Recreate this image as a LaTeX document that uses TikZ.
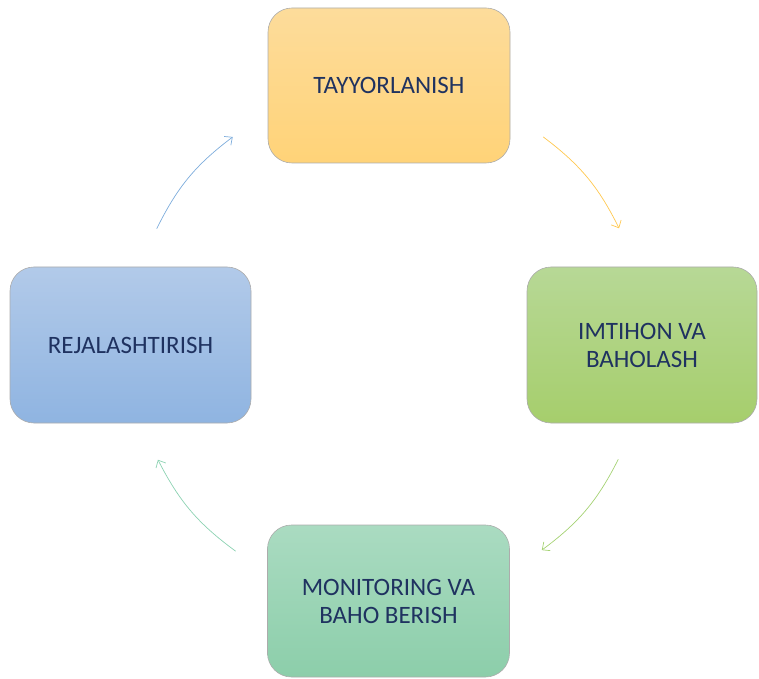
\documentclass[tikz,border=0pt]{standalone}
\usepackage{fontspec}
\setmainfont{Carlito}
\usetikzlibrary{calc, positioning, arrows.meta}
\definecolor{navytxt}{RGB}{31,50,96}
\definecolor{orangetop}{RGB}{253,220,155}
\definecolor{orangebot}{RGB}{255,211,120}
\definecolor{greentop}{RGB}{183,216,150}
\definecolor{greenbot}{RGB}{166,206,108}
\definecolor{bluetop}{RGB}{178,202,233}
\definecolor{bluebot}{RGB}{143,180,225}
\definecolor{tealtop}{RGB}{170,219,193}
\definecolor{tealbot}{RGB}{140,206,170}
\definecolor{arrblue}{RGB}{125,172,220}
\definecolor{arryellow}{RGB}{255,200,80}
\definecolor{arrgreen}{RGB}{165,210,115}
\definecolor{arrteal}{RGB}{140,210,178}

\begin{document}
\begin{tikzpicture}[x=1pt,y=1pt,
  stepbox/.style={draw=gray!65, line width=0.6pt, rounded corners=24pt,
    minimum width=242pt, minimum height=155pt, align=center,
    text=navytxt, font=\fontsize{25}{28}\selectfont},
  cycarrow/.style={-{Straight Barb[length=6pt,width=11pt]}, line width=0.7pt, bend left=13.3}
]
\useasboundingbox (0,0) rectangle (759,678);

% the four stages
\node[stepbox, top color=orangetop, bottom color=orangebot] (prep) at (389,592.5) {TAYYORLANISH};
\node[stepbox, top color=greentop, bottom color=greenbot, minimum width=230pt, minimum height=156pt] (exam) at (642,333) {IMTIHON VA\\BAHOLASH};
\node[stepbox, top color=tealtop, bottom color=tealbot, minimum height=152pt] (monit) at (388.5,77) {MONITORING VA\\BAHO BERISH};
\node[stepbox, top color=bluetop, bottom color=bluebot, minimum width=241pt, minimum height=156pt] (plan) at (130.5,333) {REJALASHTIRISH};

% arrow ends on a circle round the middle
\coordinate (mid) at (388,335);
\coordinate (b1) at ($(mid)+(153.7:258)$);
\coordinate (b2) at ($(mid)+(127:258)$);
\coordinate (y1) at ($(mid)+(53:258)$);
\coordinate (y2) at ($(mid)+(26.4:258)$);
\coordinate (g1) at ($(mid)+(-26.8:258)$);
\coordinate (g2) at ($(mid)+(-53.4:258)$);
\coordinate (t1) at ($(mid)+(-126.2:258)$);
\coordinate (t2) at ($(mid)+(-153.1:258)$);

\draw[cycarrow, arrblue] (b1) to (b2);
\draw[cycarrow, arryellow] (y1) to (y2);
\draw[cycarrow, arrgreen] (g1) to (g2);
\draw[cycarrow, arrteal] (t1) to (t2);
\end{tikzpicture}
\end{document}
